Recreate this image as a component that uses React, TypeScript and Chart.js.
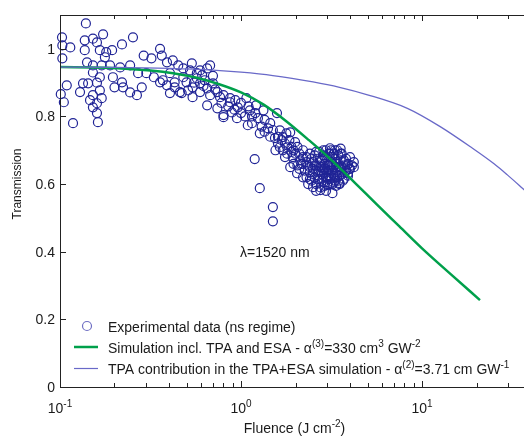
import React, { useEffect, useRef } from "react";
import { Chart, registerables } from "chart.js";

Chart.register(...registerables);

// Experimental data (ns regime): fluence (J cm^-2), transmission
const expX = [
  0.139, 0.1026, 0.114, 0.103, 0.137, 0.152, 0.16, 0.173, 0.137, 0.166, 0.18, 0.194, 0.177, 0.22, 0.253,
  0.141, 0.152, 0.17, 0.189, 0.215, 0.244, 0.152, 0.196, 0.22, 0.2, 0.27, 0.143, 0.16, 0.166, 0.152,
  0.17, 0.16, 0.109, 0.129, 0.105, 0.118, 0.162, 0.223, 0.244, 0.266, 0.283, 0.103, 0.1465, 0.16, 0.152,
  0.166, 0.134, 0.101,
  0.29, 0.32, 0.357, 0.365, 0.39, 0.42, 0.45, 0.48, 0.523, 0.57, 0.65, 0.675, 0.3, 0.33, 0.357,
  0.39, 0.43, 0.405, 0.46, 0.5, 0.54, 0.594, 0.65, 0.74, 0.8, 0.87, 0.93, 0.65, 0.74, 0.8,
  0.89, 0.95, 0.594, 0.57, 0.63, 0.7, 0.51, 0.594, 0.675, 0.766, 0.405, 0.43, 0.37, 0.535, 0.61,
  0.48, 0.54, 0.47, 0.7,
  0.55, 0.62, 0.72, 0.78, 0.85, 0.92, 1.0, 1.05, 1.15, 1.2, 1.35, 1.45, 1.55, 1.68, 1.78, 1.95,
  0.87, 0.96, 1.07, 1.12, 1.21, 1.33, 1.09, 1.24, 1.27, 1.45, 1.58, 1.41, 1.64, 1.54, 1.19,
  1.27, 1.5, 1.5, 1.7, 1.87, 1.64, 1.8, 1.99, 1.75, 1.93, 1.87, 2.04, 2.12, 2.2, 1.0,
  1.15, 1.35, 1.5, 1.3, 1.1, 1.6, 1.75, 1.9, 2.0, 1.85, 2.05, 1.6, 1.7, 1.8, 1.95,
  2.05, 2.1, 1.9, 0.8,
  2.2, 2.25, 2.3, 2.3, 2.35, 2.4, 2.4, 2.45, 2.5, 2.5, 2.55, 2.55, 2.6, 2.6, 2.65,
  2.65, 2.7, 2.7, 2.75, 2.75, 2.8, 2.8, 2.85, 2.85, 2.9, 2.9, 2.95, 2.95, 3.0, 3.0,
  3.0, 3.05, 3.1, 3.1, 3.15, 3.15, 3.2, 3.2, 3.25, 3.25, 3.3, 3.3, 3.35, 3.4, 3.4,
  3.45, 3.5, 3.5, 3.55, 3.6, 3.6, 3.7, 3.7, 3.8, 3.8, 3.9, 3.9, 4.0, 4.0, 4.1,
  4.2, 2.95, 2.6, 2.35, 2.2, 2.1, 3.35, 2.7, 2.85, 3.05, 4.2, 3.9, 3.5, 3.2, 3.1,
  3.4, 2.5, 2.74, 3.0,
  2.3, 2.4, 2.45, 2.5, 2.55, 2.6, 2.65, 2.7, 2.75, 2.8, 2.8, 2.85, 2.9, 2.9, 2.95,
  3.0, 3.0, 3.05, 3.05, 3.1, 3.1, 3.15, 3.2, 3.2, 3.25, 3.25, 3.3, 3.3, 3.35, 3.4,
  3.45, 3.45, 3.5, 3.55, 3.6, 3.65, 3.7, 3.75, 3.85, 3.95, 2.2, 2.15, 2.4, 2.6, 2.85,
  3.15, 3.55,
];
const expY = [
  1.075, 1.034, 1.004, 0.972, 1.025, 1.03, 1.019, 1.043, 0.996, 0.996, 0.99, 0.996, 0.975, 1.013, 1.034,
  0.96, 0.951, 0.951, 0.951, 0.945, 0.951, 0.93, 0.916, 0.901, 0.886, 0.928, 0.898, 0.9, 0.877, 0.863,
  0.854, 0.839, 0.892, 0.872, 0.842, 0.78, 0.783, 0.886, 0.871, 0.863, 0.886, 1.01, 0.848, 0.81, 0.827,
  0.916, 0.898, 0.866,
  0.98, 0.972, 1.0, 0.98, 0.96, 0.966, 0.951, 0.942, 0.936, 0.928, 0.942, 0.951, 0.928, 0.916, 0.901,
  0.892, 0.886, 0.869, 0.872, 0.901, 0.886, 0.898, 0.883, 0.872, 0.863, 0.854, 0.848, 0.833, 0.824, 0.804,
  0.812, 0.795, 0.936, 0.913, 0.907, 0.92, 0.877, 0.872, 0.863, 0.857, 0.928, 0.901, 0.907, 0.957, 0.922,
  0.916, 0.857, 0.869, 0.898,
  0.9, 0.89, 0.88, 0.84, 0.83, 0.82, 0.81, 0.8, 0.78, 0.81, 0.755, 0.74, 0.7, 0.73, 0.75, 0.7,
  0.842, 0.827, 0.854, 0.818, 0.833, 0.818, 0.774, 0.795, 0.75, 0.78, 0.81, 0.765, 0.759, 0.736, 0.674,
  0.588, 0.532, 0.49, 0.739, 0.753, 0.709, 0.709, 0.724, 0.68, 0.68, 0.65, 0.632, 0.67, 0.7, 0.84,
  0.8, 0.79, 0.76, 0.77, 0.83, 0.74, 0.72, 0.71, 0.69, 0.73, 0.71, 0.72, 0.7, 0.69, 0.66,
  0.655, 0.69, 0.695, 0.798,
  0.66, 0.64, 0.68, 0.62, 0.655, 0.69, 0.635, 0.61, 0.665, 0.645, 0.685, 0.62, 0.6, 0.655, 0.675,
  0.635, 0.695, 0.615, 0.65, 0.59, 0.67, 0.63, 0.605, 0.685, 0.645, 0.66, 0.62, 0.7, 0.635, 0.675,
  0.6, 0.655, 0.615, 0.69, 0.64, 0.665, 0.6, 0.68, 0.625, 0.65, 0.7, 0.61, 0.665, 0.64, 0.62,
  0.685, 0.65, 0.6, 0.67, 0.63, 0.69, 0.655, 0.615, 0.675, 0.64, 0.66, 0.625, 0.68, 0.645, 0.655,
  0.665, 0.58, 0.58, 0.6, 0.62, 0.645, 0.595, 0.655, 0.64, 0.625, 0.65, 0.632, 0.603, 0.573, 0.706,
  0.7, 0.591, 0.582, 0.597,
  0.665, 0.65, 0.675, 0.63, 0.655, 0.64, 0.615, 0.64, 0.67, 0.61, 0.65, 0.625, 0.595, 0.68, 0.64,
  0.655, 0.615, 0.69, 0.64, 0.6, 0.655, 0.62, 0.64, 0.66, 0.605, 0.69, 0.63, 0.675, 0.65, 0.66,
  0.61, 0.64, 0.625, 0.69, 0.65, 0.61, 0.67, 0.635, 0.655, 0.645, 0.68, 0.66, 0.615, 0.695, 0.7,
  0.7, 0.705,
];

// Simulation incl. TPA and ESA
const simX = [0.1, 0.178, 0.316, 0.422, 0.562, 0.75, 1.0, 1.334, 1.778, 2.371, 3.162, 4.217, 5.623, 7.5, 10, 14.45, 20.9];
const simY = [0.946, 0.944, 0.936, 0.928, 0.915, 0.896, 0.871, 0.835, 0.786, 0.73, 0.671, 0.606, 0.54, 0.475, 0.41, 0.333, 0.257];

// TPA contribution
const tpaX = [0.1, 0.2, 0.4, 0.7, 1.0, 1.5, 2.5, 3.5, 5, 8.3, 12.6, 19, 25, 29.5, 36, 40];
const tpaY = [0.946, 0.945, 0.942, 0.937, 0.931, 0.921, 0.902, 0.886, 0.864, 0.824, 0.77, 0.706, 0.66, 0.628, 0.587, 0.565];

// Axis ticks
const yTickValues = [0, 0.2, 0.4, 0.6, 0.8, 1];
const yTickLabels = ["0", "0.2", "0.4", "0.6", "0.8", "1"];
const xMajorValues = [0.1, 1, 10];
const xMajorExponents = ["-1", "0", "1"];
const xMinorValues = [0.2, 0.3, 0.4, 0.5, 0.6, 0.7, 0.8, 0.9, 2, 3, 4, 5, 6, 7, 8, 9, 20, 30];

const FONT = "'Liberation Sans', Arial, Helvetica, sans-serif";
const TEXT = "#1a1a1a";
const SCATTER = "rgb(32,36,150)";
const GREEN = "rgb(0,160,75)";
const BLUE = "rgb(105,105,200)";

type Part = { t: string; sup?: boolean };

function drawRich(ctx: CanvasRenderingContext2D, parts: Part[], x: number, y: number, size: number, align: "left" | "center" = "left") {
  const supSize = Math.round(size * 0.72);
  const widths = parts.map((p) => {
    ctx.font = `${p.sup ? supSize : size}px ${FONT}`;
    return ctx.measureText(p.t).width;
  });
  const total = widths.reduce((a, b) => a + b, 0);
  let cx = align === "center" ? x - total / 2 : x;
  ctx.textAlign = "left";
  ctx.textBaseline = "alphabetic";
  parts.forEach((p, i) => {
    ctx.font = `${p.sup ? supSize : size}px ${FONT}`;
    ctx.fillText(p.t, cx, p.sup ? y - size * 0.45 : y);
    cx += widths[i];
  });
}

const framePlugin = {
  id: "matlabFrame",
  afterDatasetsDraw(chart: any) {
    const ctx: CanvasRenderingContext2D = chart.ctx;
    const { left, right, top, bottom } = chart.chartArea;
    const xs = chart.scales.x;
    const ys = chart.scales.y;
    ctx.save();
    ctx.strokeStyle = "#222";
    ctx.lineWidth = 1;
    ctx.beginPath();
    ctx.rect(Math.round(left) + 0.5, Math.round(top) + 0.5, Math.round(right - left), Math.round(bottom - top));
    ctx.stroke();

    // y ticks
    ctx.beginPath();
    yTickValues.forEach((v) => {
      const py = Math.round(ys.getPixelForValue(v)) + 0.5;
      ctx.moveTo(left, py);
      ctx.lineTo(left + 6, py);
      ctx.moveTo(right, py);
      ctx.lineTo(right - 6, py);
    });
    // x ticks
    xMajorValues.forEach((v) => {
      const px = Math.round(xs.getPixelForValue(v)) + 0.5;
      ctx.moveTo(px, bottom);
      ctx.lineTo(px, bottom - 6);
      ctx.moveTo(px, top);
      ctx.lineTo(px, top + 6);
    });
    xMinorValues.forEach((v) => {
      const px = Math.round(xs.getPixelForValue(v)) + 0.5;
      ctx.moveTo(px, bottom);
      ctx.lineTo(px, bottom - 4);
      ctx.moveTo(px, top);
      ctx.lineTo(px, top + 4);
    });
    ctx.stroke();

    ctx.fillStyle = TEXT;
    // y labels
    ctx.font = `14px ${FONT}`;
    ctx.textAlign = "right";
    ctx.textBaseline = "middle";
    yTickValues.forEach((v, i) => {
      ctx.fillText(yTickLabels[i], left - 5, ys.getPixelForValue(v) + 1);
    });
    // x labels
    xMajorValues.forEach((v, i) => {
      const px = xs.getPixelForValue(v);
      drawRich(ctx, [{ t: "10" }, { t: xMajorExponents[i], sup: true }], px, bottom + 26, 14, "center");
    });

    // axis titles
    ctx.save();
    ctx.translate(18, 184);
    ctx.rotate(-Math.PI / 2);
    ctx.font = `12px ${FONT}`;
    ctx.textAlign = "center";
    ctx.textBaseline = "middle";
    ctx.fillText("Transmission", 0, 0);
    ctx.restore();
    drawRich(ctx, [{ t: "Fluence (J cm" }, { t: "-2", sup: true }, { t: ")" }], (left + right) / 2 - 1, 433, 14, "center");

    // annotation
    ctx.font = `14px ${FONT}`;
    ctx.textAlign = "left";
    ctx.textBaseline = "middle";
    ctx.fillText("\u03bb=1520 nm", xs.getPixelForValue(1.0) - 1, ys.getPixelForValue(0.396));

    // legend
    ctx.beginPath();
    ctx.strokeStyle = "rgb(110,110,195)";
    ctx.lineWidth = 1.2;
    ctx.arc(87, 326, 4.5, 0, Math.PI * 2);
    ctx.stroke();
    ctx.beginPath();
    ctx.strokeStyle = GREEN;
    ctx.lineWidth = 2.5;
    ctx.moveTo(74, 347);
    ctx.lineTo(98, 347);
    ctx.stroke();
    ctx.beginPath();
    ctx.strokeStyle = BLUE;
    ctx.lineWidth = 1.2;
    ctx.moveTo(74, 368.5);
    ctx.lineTo(98, 368.5);
    ctx.stroke();
    ctx.fillStyle = TEXT;
    drawRich(ctx, [{ t: "Experimental data (ns regime)" }], 108, 332, 14);
    drawRich(
      ctx,
      [
        { t: "Simulation incl. TPA and ESA - \u03b1" },
        { t: "(3)", sup: true },
        { t: "=330 cm" },
        { t: "3", sup: true },
        { t: " GW" },
        { t: "-2", sup: true },
      ],
      108,
      353,
      14
    );
    drawRich(
      ctx,
      [
        { t: "TPA contribution in the TPA+ESA simulation - \u03b1" },
        { t: "(2)", sup: true },
        { t: "=3.71 cm GW" },
        { t: "-1", sup: true },
      ],
      108,
      374,
      14
    );
    ctx.restore();
  },
};

export default function App() {
  const ref = useRef<HTMLCanvasElement | null>(null);
  useEffect(() => {
    if (!ref.current) return;
    const expPoints = expX.map((x, i) => ({ x, y: expY[i] }));
    const simPoints = simX.map((x, i) => ({ x, y: simY[i] }));
    const tpaPoints = tpaX.map((x, i) => ({ x, y: tpaY[i] }));
    const chart = new Chart(ref.current, {
      type: "scatter",
      data: {
        datasets: [
          {
            label: "TPA contribution in the TPA+ESA simulation",
            data: tpaPoints,
            showLine: true,
            borderColor: BLUE,
            borderWidth: 1.3,
            pointRadius: 0,
            cubicInterpolationMode: "monotone",
            order: 1,
          } as any,
          {
            label: "Simulation incl. TPA and ESA",
            data: simPoints,
            showLine: true,
            borderColor: GREEN,
            borderWidth: 2.5,
            pointRadius: 0,
            cubicInterpolationMode: "monotone",
            order: 2,
          } as any,
          {
            label: "Experimental data (ns regime)",
            data: expPoints,
            showLine: false,
            pointStyle: "circle",
            pointRadius: 4.5,
            borderWidth: 1.2,
            borderColor: SCATTER,
            backgroundColor: "rgba(0,0,0,0)",
            clip: false,
            order: 3,
          } as any,
        ],
      },
      options: {
        animation: false,
        responsive: false,
        devicePixelRatio: 1,
        layout: { padding: { left: 60, top: 15, right: 9, bottom: 51 } },
        plugins: { legend: { display: false }, tooltip: { enabled: false } },
        events: [],
        scales: {
          x: { type: "logarithmic", min: 0.1, max: 40, display: false },
          y: { type: "linear", min: 0, max: 1.1, display: false },
        },
      },
      plugins: [framePlugin],
    });
    return () => chart.destroy();
  }, []);
  return (
    <div style={{ position: "fixed", left: 0, top: 0, width: 540, height: 438, background: "#fff" }}>
      <canvas ref={ref} width={540} height={438} style={{ display: "block" }} />
    </div>
  );
}
